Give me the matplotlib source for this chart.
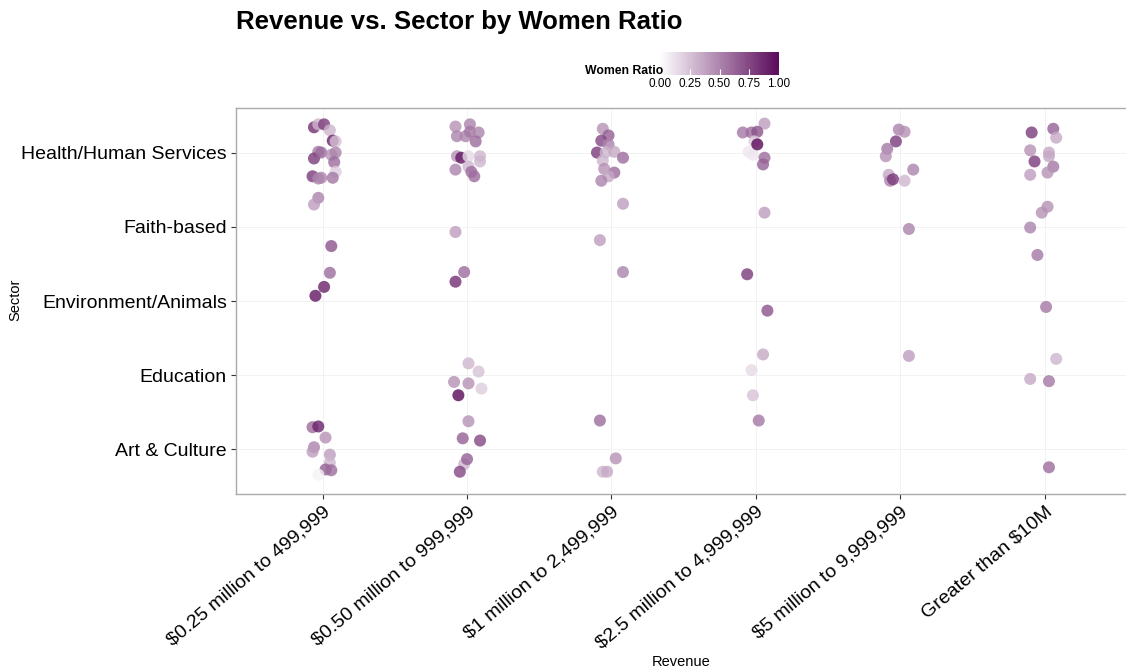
import matplotlib
matplotlib.use("Agg")
import matplotlib.pyplot as plt
import numpy as np
from matplotlib.colors import LinearSegmentedColormap
from matplotlib.cm import ScalarMappable
from matplotlib.colors import Normalize

plt.rcParams['font.family'] = ['Liberation Sans', 'DejaVu Sans']

# categories
revenue_labels = ["$0.25 million to 499,999", "$0.50 million to 999,999",
                  "$1 million to 2,499,999", "$2.5 million to 4,999,999",
                  "$5 million to 9,999,999", "Greater than $10M"]
sector_labels = ["Art & Culture", "Education", "Environment/Animals",
                 "Faith-based", "Health/Human Services"]

# one entry per organisation: revenue index, sector index, jitter, women ratio
rev = [0]*17 + [0]*3 + [0]*3 + [0]*10 \
    + [1]*16 + [1] + [1]*2 + [1]*6 + [1]*6 \
    + [2]*13 + [2]*2 + [2] + [2]*4 \
    + [3]*10 + [3] + [3]*2 + [3]*3 + [3] \
    + [4]*10 + [4] + [4] \
    + [5]*10 + [5]*4 + [5] + [5]*3 + [5]
sec = [4]*17 + [3]*3 + [2]*3 + [0]*10 \
    + [4]*16 + [3] + [2]*2 + [1]*6 + [0]*6 \
    + [4]*13 + [3]*2 + [2] + [0]*4 \
    + [4]*10 + [3] + [2]*2 + [1]*3 + [0] \
    + [4]*10 + [3] + [1] \
    + [4]*10 + [3]*4 + [2] + [1]*3 + [0]
x_jit = [-0.06, -0.03, 0.01, 0.05, 0.07, 0.09, -0.03, -0.06, -0.01, 0.06, 0.09, 0.08, 0.09, -0.07, -0.03, -0.01, 0.07,
         -0.03, -0.06, 0.06,
         0.05, 0.01, -0.05,
         -0.07, -0.03, 0.02, -0.06, -0.07, 0.05, 0.05, 0.02, 0.06, -0.03,
         -0.08, 0.02, -0.07, -0.01, 0.02, 0.08, 0.06, -0.07, -0.04, 0.01, 0.09, 0.09, -0.08, 0.01, 0.03, 0.05,
         -0.08,
         -0.02, -0.08,
         0.01, 0.08, -0.09, 0.01, 0.10, -0.06,
         0.01, -0.03, 0.09, -0.02, 0.00, -0.05,
         -0.06, -0.02, -0.07, -0.02, -0.10, -0.04, 0.02, 0.08, -0.06, -0.05, 0.02, -0.02, -0.07,
         0.08, -0.08,
         0.08,
         -0.08, 0.03, -0.06, -0.03,
         0.06, -0.09, -0.03, 0.01, -0.01, -0.05, -0.02, 0.01, 0.06, 0.05,
         0.06,
         -0.06, 0.08,
         0.05, -0.03, -0.02,
         0.02,
         -0.01, 0.03, -0.03, -0.09, -0.10, 0.09, -0.08, -0.07, -0.05, 0.03,
         0.06,
         0.06,
         -0.09, 0.06, 0.08, -0.10, 0.03, 0.03, -0.07, 0.06, 0.02, -0.10,
         0.02, -0.02, -0.10, -0.05,
         0.01,
         0.08, -0.10, 0.03,
         0.03]
y_jit = [0.34, 0.38, 0.38, 0.30, 0.16, 0.15, 0.01, -0.08, 0.00, -0.03, 0.00, -0.13, -0.26, -0.32, -0.35, -0.34, -0.34,
         0.39, 0.30, -0.26,
         0.38, 0.19, 0.07,
         0.30, 0.31, 0.16, 0.03, -0.03, -0.07, -0.18, -0.27, -0.28, -0.34,
         0.35, 0.38, 0.22, 0.22, 0.28, 0.27, 0.15, -0.05, -0.07, -0.05, -0.05, -0.12, -0.23, -0.19, -0.26, -0.32,
         -0.07,
         0.39, 0.26,
         0.16, 0.05, -0.09, -0.11, -0.18, -0.27,
         0.38, 0.15, 0.12, -0.20, -0.13, -0.30,
         0.32, 0.23, 0.16, 0.11, 0.00, 0.00, 0.01, -0.07, -0.11, -0.22, -0.27, -0.32, -0.38,
         0.31, -0.18,
         0.39,
         0.39, -0.12, -0.30, -0.30,
         0.39, 0.27, 0.27, 0.28, 0.15, 0.01, -0.03, 0.11, -0.07, -0.16,
         0.19,
         0.36, -0.13,
         0.28, 0.07, -0.27,
         0.39,
         0.31, 0.28, 0.15, 0.05, -0.05, -0.23, -0.30, -0.38, -0.36, -0.38,
         -0.03,
         0.26,
         0.27, 0.32, 0.20, 0.03, 0.00, -0.05, -0.12, -0.19, -0.27, -0.30,
         0.27, 0.19, -0.01, -0.38,
         -0.08,
         0.22, -0.05, -0.08,
         -0.24]
women_ratio = [0.85, 0.3, 0.8, 0.3, 0.9, 0.25, 0.55, 0.8, 0.6, 0.45, 0.5, 0.6, 0.2, 0.8, 0.5, 0.5, 0.55,
               0.5, 0.4, 0.7,
               0.6, 0.9, 0.95,
               0.6, 0.9, 0.45, 0.5, 0.4, 0.4, 0.3, 0.65, 0.6, 0.05,
               0.45, 0.5, 0.5, 0.5, 0.55, 0.5, 0.6, 0.45, 0.95, 0.15, 0.3, 0.3, 0.5, 0.3, 0.6, 0.6,
               0.4,
               0.6, 0.85,
               0.3, 0.25, 0.45, 0.45, 0.2, 1.0,
               0.45, 0.65, 0.75, 0.3, 0.65, 0.75,
               0.45, 0.65, 0.75, 0.5, 0.8, 0.3, 0.35, 0.6, 0.3, 0.45, 0.6, 0.35, 0.5,
               0.4, 0.4,
               0.5,
               0.6, 0.45, 0.3, 0.35,
               0.4, 0.55, 0.6, 0.7, 0.2, 0.1, 0.1, 1.0, 0.6, 0.65,
               0.4,
               0.8, 0.7,
               0.35, 0.15, 0.25,
               0.55,
               0.5, 0.45, 0.8, 0.55, 0.45, 0.5, 0.35, 0.5, 0.8, 0.3,
               0.5,
               0.4,
               0.8, 0.65, 0.35, 0.45, 0.35, 0.35, 0.8, 0.55, 0.45, 0.4,
               0.45, 0.45, 0.5, 0.55,
               0.55,
               0.3, 0.35, 0.55,
               0.6]

cmap = LinearSegmentedColormap.from_list("women", ["#ffffff", "#5a0a5a"])
norm = Normalize(0, 1)

fig = plt.figure(figsize=(11.26, 6.69), dpi=100)
ax = fig.add_axes([236/1126, 175/669, 1 - 236/1126, 386/669])

xs = np.array(rev) + 1 + np.array(x_jit)
ys = np.array(sec) + 1 + np.array(y_jit)
ax.scatter(xs, ys, c=women_ratio, cmap=cmap, norm=norm, s=75, alpha=0.8,
           edgecolors='none', zorder=3)

ax.set_xlim(0.4, 0.4 + 890/144.4)
ax.set_ylim(0.4, 5.6)
ax.set_xticks(range(1, 7))
ax.set_xticklabels(revenue_labels, rotation=40, ha='right', va='top',
                   rotation_mode='anchor', fontsize=14)
ax.set_yticks(range(1, 6))
ax.set_yticklabels(sector_labels, fontsize=14)
ax.tick_params(length=3.5, color='#333333', pad=3)
ax.grid(True, color='#f0f0f0', linewidth=0.6, zorder=0)
for side in ['left', 'top', 'bottom']:
    ax.spines[side].set_color('#aaaaaa')
    ax.spines[side].set_linewidth(1.0)
ax.spines['right'].set_visible(False)

ax.set_xlabel("Revenue", fontsize=10.5, labelpad=2)
fig.text(15/1126, 1 - 300/669, "Sector", rotation=90, fontsize=10.5,
         ha='center', va='center')
fig.text(236/1126, 1 - 22/669, "Revenue vs. Sector by Women Ratio",
         fontsize=18.5, fontweight='bold', ha='left', va='center')

# legend colour bar
cax = fig.add_axes([660/1126, 594/669, 119/1126, 23/669])
cb = fig.colorbar(ScalarMappable(norm=norm, cmap=cmap), cax=cax,
                  orientation='horizontal', ticks=[0, 0.25, 0.5, 0.75, 1.0])
cb.outline.set_visible(False)
cb.ax.set_xticklabels(["0.00", "0.25", "0.50", "0.75", "1.00"], fontsize=8.5)
cb.ax.tick_params(direction='in', color='white', length=4, pad=2)
fig.text(585/1126, 1 - 71/669, "Women Ratio", fontsize=8.8,
         fontweight='bold', ha='left', va='center')

fig.savefig("out.png", dpi=100)
